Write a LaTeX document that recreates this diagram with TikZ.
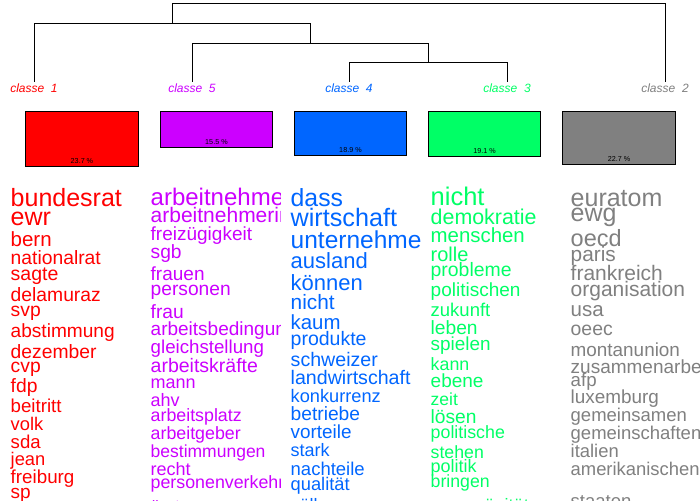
\documentclass[tikz,border=0pt]{standalone}
\usepackage{fontspec}
\setmainfont{Liberation Sans}
\usetikzlibrary{calc}
\definecolor{cA}{HTML}{FF0000}
\definecolor{cE}{HTML}{CC00FF}
\definecolor{cD}{HTML}{0066FF}
\definecolor{cC}{HTML}{00FF66}
\definecolor{cB}{HTML}{808080}
\tikzset{
  tree/.style={line width=0.9pt, draw=black},
  clabel/.style={font=\fontsize{12}{12}\selectfont\itshape, anchor=base, inner sep=0pt},
  cbox/.style={draw=black, line width=0.9pt, anchor=north west, inner sep=0pt, minimum width=#1},
  pct/.style={font=\fontsize{7.2}{7.2}\selectfont, anchor=base, inner sep=0pt, text=black},
  word/.style={anchor=base west, inner sep=0pt},
}
\newcommand{\wrd}[5]{\node[word, font=\fontsize{#4}{#4}\selectfont] (#1) at (#2,#3) {#5};}
\begin{document}
\begin{tikzpicture}[x=1pt,y=-1pt]
\useasboundingbox (0,0) rectangle (700,500);
\fill[white] (0,0) rectangle (700,500);
% dendrogram
\coordinate (l1) at (34,82);
\coordinate (l5) at (192,82);
\coordinate (l4) at (349,82);
\coordinate (l3) at (507,82);
\coordinate (l2) at (665,82);
\coordinate (A) at (172,23);
\coordinate (B) at (310,43);
\coordinate (C) at (428,62);
\coordinate (T) at (172,3);
\draw[tree] (l1) |- (B |- A) -- (B);
\draw[tree] (A) -- (T) -| (l2);
\draw[tree] (l5) |- (C |- B) -- (C);
\draw[tree] (l4) |- (l3 |- C) -- (l3);
% class labels
\node[clabel, text=cA] (k1) at (34,92.3) {classe~~1};
\node[clabel, text=cE] (k5) at (192,92.3) {classe~~5};
\node[clabel, text=cD] (k4) at (349,92.3) {classe~~4};
\node[clabel, text=cC] (k3) at (507,92.3) {classe~~3};
\node[clabel, text=cB] (k2) at (665,92.3) {classe~~2};
% boxes
\node[cbox=113pt, fill=cA, minimum height=55pt] (b1) at (25,111) {};
\node[cbox=112pt, fill=cE, minimum height=36pt] (b5) at (160,111) {};
\node[cbox=112pt, fill=cD, minimum height=44pt] (b4) at (294,111) {};
\node[cbox=112pt, fill=cC, minimum height=45pt] (b3) at (428,111) {};
\node[cbox=113pt, fill=cB, minimum height=53pt] (b2) at (562,111) {};
\node[pct] (p1) at ($(b1.south)+(0,-3.3)$) {23.7 \%};
\node[pct] (p5) at ($(b5.south)+(0,-3.3)$) {15.5 \%};
\node[pct] (p4) at ($(b4.south)+(0,-3.3)$) {18.9 \%};
\node[pct] (p3) at ($(b3.south)+(0,-3.3)$) {19.1 \%};
\node[pct] (p2) at ($(b2.south)+(0,-3.3)$) {22.7 \%};
% column 1
\begin{scope}[every node/.append style={text=cA}]
\clip (8,170) rectangle (140,500);
\wrd{a1}{10.5}{206}{25}{bundesrat}
\wrd{a2}{10.5}{225}{25}{ewr}
\wrd{a3}{10.5}{246.5}{20.5}{bern}
\wrd{a4}{10.5}{264}{19.3}{nationalrat}
\wrd{a5}{10.5}{280}{19.5}{sagte}
\wrd{a6}{10.5}{301.5}{19.3}{delamuraz}
\wrd{a7}{10.5}{316.5}{19.3}{svp}
\wrd{a8}{10.5}{337}{19.1}{abstimmung}
\wrd{a9}{10.5}{358}{19.3}{dezember}
\wrd{a10}{10.5}{372}{19.3}{cvp}
\wrd{a11}{10.5}{392}{19.3}{fdp}
\wrd{a12}{10.5}{412.5}{18.7}{beitritt}
\wrd{a13}{10.5}{430}{18.3}{volk}
\wrd{a14}{10.5}{448}{18.6}{sda}
\wrd{a15}{10.5}{465}{18.3}{jean}
\wrd{a16}{10.5}{483}{18.8}{freiburg}
\wrd{a17}{10.5}{498}{19}{sp}
\end{scope}
% column 2
\begin{scope}[every node/.append style={text=cE}]
\clip (148,170) rectangle (280,500);
\wrd{e1}{150.5}{205}{24}{arbeitnehmer}
\wrd{e2}{150.5}{222.5}{21}{arbeitnehmerinnen}
\wrd{e3}{150.5}{240}{19}{freizügigkeit}
\wrd{e4}{150.5}{258}{19.2}{sgb}
\wrd{e5}{150.5}{280}{19}{frauen}
\wrd{e6}{150.5}{295}{19.2}{personen}
\wrd{e7}{150.5}{318.5}{19.2}{frau}
\wrd{e8}{150.5}{335}{19}{arbeitsbedingungen}
\wrd{e9}{150.5}{353}{18.7}{gleichstellung}
\wrd{e10}{150.5}{372}{19.5}{arbeitskräfte}
\wrd{e11}{150.5}{388}{18}{mann}
\wrd{e12}{150.5}{406.5}{18}{ahv}
\wrd{e13}{150.5}{421.5}{17.8}{arbeitsplatz}
\wrd{e14}{150.5}{439.5}{17.8}{arbeitgeber}
\wrd{e15}{150.5}{457}{17.5}{bestimmungen}
\wrd{e16}{150.5}{475}{18}{recht}
\wrd{e17}{150.5}{488.5}{17.8}{personenverkehr}
\wrd{e18}{150.5}{512}{17.5}{ärzte}
\end{scope}
% column 3
\begin{scope}[every node/.append style={text=cD}]
\clip (288,170) rectangle (420,500);
\wrd{d1}{290.5}{206}{24.8}{dass}
\wrd{d2}{290.5}{226.5}{25.2}{wirtschaft}
\wrd{d3}{290.5}{248.5}{24.5}{unternehmen}
\wrd{d4}{290.5}{268.5}{22}{ausland}
\wrd{d5}{290.5}{290}{22}{können}
\wrd{d6}{290.5}{309.5}{20.8}{nicht}
\wrd{d7}{290.5}{329.5}{20.4}{kaum}
\wrd{d8}{290.5}{345}{19.5}{produkte}
\wrd{d9}{290.5}{366}{19.6}{schweizer}
\wrd{d10}{290.5}{384}{19.6}{landwirtschaft}
\wrd{d11}{290.5}{402.5}{18.2}{konkurrenz}
\wrd{d12}{290.5}{420.5}{19.2}{betriebe}
\wrd{d13}{290.5}{438.5}{18.9}{vorteile}
\wrd{d14}{290.5}{456.5}{18}{stark}
\wrd{d15}{290.5}{475}{18.5}{nachteile}
\wrd{d16}{290.5}{490}{18.3}{qualität}
\wrd{d17}{290.5}{511.5}{18}{zölle}
\end{scope}
% column 4
\begin{scope}[every node/.append style={text=cC}]
\clip (428,170) rectangle (560,500);
\wrd{c1}{430.5}{205}{25.5}{nicht}
\wrd{c2}{430.5}{224}{21.4}{demokratie}
\wrd{c3}{430.5}{242.5}{20.4}{menschen}
\wrd{c4}{430.5}{261}{20}{rolle}
\wrd{c5}{430.5}{276.5}{19.4}{probleme}
\wrd{c6}{430.5}{296}{19}{politischen}
\wrd{c7}{430.5}{316.5}{18.5}{zukunft}
\wrd{c8}{430.5}{334}{19.2}{leben}
\wrd{c9}{430.5}{350}{18.9}{spielen}
\wrd{c10}{430.5}{370}{17.8}{kann}
\wrd{c11}{430.5}{387.5}{19}{ebene}
\wrd{c12}{430.5}{405.5}{17.5}{zeit}
\wrd{c13}{430.5}{423.5}{19.2}{lösen}
\wrd{c14}{430.5}{438.5}{17.8}{politische}
\wrd{c15}{430.5}{458.5}{17.7}{stehen}
\wrd{c16}{430.5}{472.5}{18}{politik}
\wrd{c17}{430.5}{487.5}{17.7}{bringen}
\wrd{c18}{430.5}{511.5}{18}{souveränität}
\end{scope}
% column 5
\begin{scope}[every node/.append style={text=cB}]
\clip (568,170) rectangle (700,500);
\wrd{g1}{570.5}{206}{25}{euratom}
\wrd{g2}{570.5}{221.5}{25}{ewg}
\wrd{g3}{570.5}{246}{23.5}{oecd}
\wrd{g4}{570.5}{261.5}{20.8}{paris}
\wrd{g5}{570.5}{280}{21}{frankreich}
\wrd{g6}{570.5}{296.5}{21}{organisation}
\wrd{g7}{570.5}{316.5}{20.5}{usa}
\wrd{g8}{570.5}{335}{19.4}{oeec}
\wrd{g9}{570.5}{356.5}{18.9}{montanunion}
\wrd{g10}{570.5}{373.5}{19}{zusammenarbeit}
\wrd{g11}{570.5}{386.5}{18.7}{afp}
\wrd{g12}{570.5}{403.5}{18.9}{luxemburg}
\wrd{g13}{570.5}{421.5}{18.5}{gemeinsamen}
\wrd{g14}{570.5}{439.5}{18.5}{gemeinschaften}
\wrd{g15}{570.5}{457}{18.4}{italien}
\wrd{g16}{570.5}{475}{18.4}{amerikanischen}
\wrd{g17}{570.5}{507.5}{18.5}{staaten}
\end{scope}
\end{tikzpicture}
\end{document}
